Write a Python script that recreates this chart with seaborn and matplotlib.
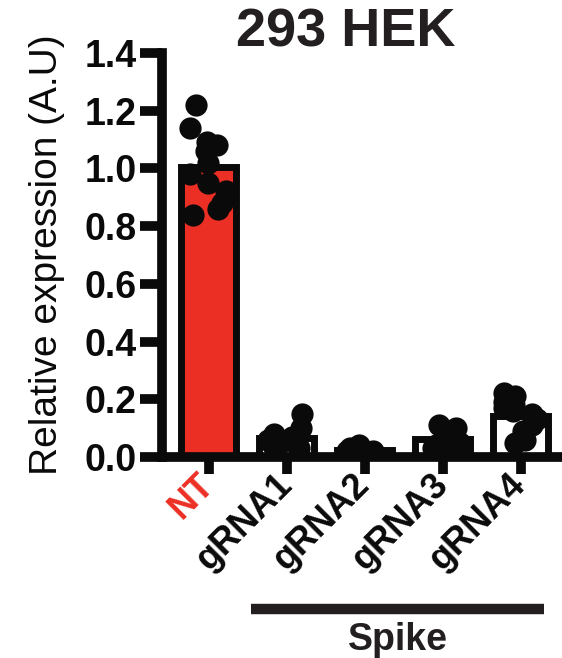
import numpy as np
import pandas as pd
import matplotlib
matplotlib.use("Agg")
import matplotlib.pyplot as plt
import seaborn as sns

# Relative expression per sample, normalised to the non-targeting control
groups = ["NT", "gRNA1", "gRNA2", "gRNA3", "gRNA4"]
nt_vals = [1.22, 1.14, 1.09, 1.08, 1.06, 1.02, 0.98, 0.95, 0.92, 0.88, 0.86, 0.84]
grna1_vals = [0.15, 0.10, 0.08, 0.07, 0.06, 0.05, 0.05, 0.04, 0.04, 0.03]
grna2_vals = [0.04, 0.03, 0.03, 0.02, 0.02, 0.01, 0.02, 0.01]
grna3_vals = [0.11, 0.10, 0.09, 0.07, 0.06, 0.05, 0.04, 0.04, 0.03, 0.03]
grna4_vals = [0.22, 0.21, 0.19, 0.18, 0.17, 0.16, 0.15, 0.13, 0.11, 0.09, 0.06, 0.05]
yticks = [0.0, 0.2, 0.4, 0.6, 0.8, 1.0, 1.2, 1.4]

RED = "#EC2F24"
INK = "#0A0A0A"

sns.set_theme(style="ticks")
plt.rcParams["font.family"] = ["Liberation Sans", "DejaVu Sans"]
plt.rcParams["text.color"] = INK
plt.rcParams["axes.labelcolor"] = INK
plt.rcParams["xtick.color"] = INK
plt.rcParams["ytick.color"] = INK
plt.rcParams["axes.edgecolor"] = INK

all_vals = [nt_vals, grna1_vals, grna2_vals, grna3_vals, grna4_vals]
df = pd.DataFrame({
    "group": sum([[g] * len(v) for g, v in zip(groups, all_vals)], []),
    "value": sum(all_vals, []),
})

fig = plt.figure(figsize=(5.62, 6.58), dpi=100)
ax = fig.add_axes([0.288, 0.3055, 0.708, 0.614])

sns.barplot(data=df, x="group", y="value", order=groups, hue="group",
            palette=[RED, "white", "white", "white", "white"], legend=False,
            saturation=1, errorbar=None, width=0.7, edgecolor=INK,
            linewidth=5, ax=ax)
np.random.seed(11)
sns.stripplot(data=df, x="group", y="value", order=groups, color=INK,
              size=16, jitter=0.25, linewidth=0, ax=ax)

ax.set_xlim(-0.6, 4.5)
ax.set_ylim(0, 1.4)
ax.set_yticks(yticks)
ax.set_yticklabels([f"{t:.1f}" for t in yticks], fontsize=27, fontweight="bold")
ax.set_xticks(range(len(groups)))
ax.set_xticklabels(groups, fontsize=26, fontweight="bold", rotation=45,
                   ha="right", va="center", rotation_mode="anchor")
ax.get_xticklabels()[0].set_color(RED)
ax.set_xlabel("")
ax.set_ylabel("Relative expression (A.U)", fontsize=28, labelpad=14)

sns.despine(ax=ax)
for side in ("left", "bottom"):
    ax.spines[side].set_linewidth(7)
ax.tick_params(axis="y", length=16, width=7, pad=2)
ax.tick_params(axis="x", length=12, width=7, pad=4)

fig.text(0.616, 0.951, "293 HEK", fontsize=39, fontweight="bold",
         ha="center", va="center", color="#231F20")

# Bracket marking the Spike-targeting guides
tr = ax.get_xaxis_transform()
ax.plot([0.54, 4.3], [-0.376, -0.376], color="#231F20", lw=7.5,
        solid_capstyle="butt", transform=tr, clip_on=False)
ax.text(2.42, -0.453, "Spike", transform=tr, ha="center", va="center",
        fontsize=27, fontweight="bold", color="#231F20")

fig.savefig("out.png", dpi=100)
